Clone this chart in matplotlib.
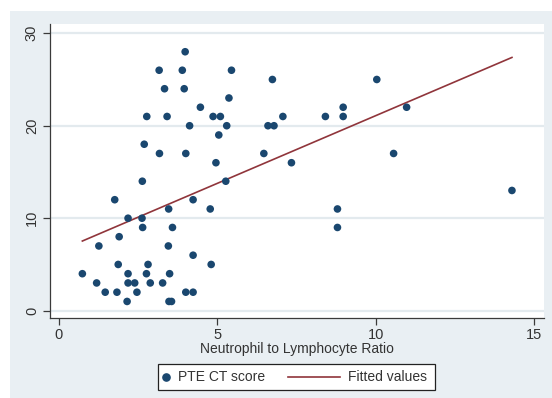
import matplotlib.pyplot as plt
from matplotlib.lines import Line2D
from matplotlib.patches import Rectangle
import numpy as np

plt.rcParams['font.family'] = ['Liberation Sans', 'DejaVu Sans']

# Neutrophil to Lymphocyte Ratio vs PTE CT score
nlr = [0.75, 1.20, 1.27, 1.47, 1.77, 1.84, 1.88, 1.91, 2.16, 2.19,
       2.19, 2.19, 2.40, 2.47, 2.63, 2.64, 2.65, 2.70, 2.77, 2.78,
       2.82, 2.89, 3.17, 3.18, 3.28, 3.34, 3.42, 3.46, 3.47, 3.50,
       3.48, 3.56, 3.59, 3.90, 3.96, 3.99, 4.01, 4.01, 4.13, 4.24,
       4.24, 4.24, 4.47, 4.78, 4.81, 4.87, 4.96, 5.05, 5.10, 5.27,
       5.30, 5.37, 5.45, 6.47, 6.60, 6.74, 6.79, 7.07, 7.34, 8.41,
       8.79, 8.79, 8.97, 8.97, 10.03, 10.56, 10.97, 14.29]
pte = [4, 3, 7, 2, 12, 2, 5, 8, 1, 10,
       4, 3, 3, 2, 10, 14, 9, 18, 4, 21,
       5, 3, 26, 17, 3, 24, 21, 7, 11, 4,
       1, 1, 9, 26, 24, 28, 17, 2, 20, 12,
       6, 2, 22, 11, 5, 21, 16, 19, 21, 14,
       20, 23, 26, 17, 20, 25, 20, 21, 16, 21,
       11, 9, 22, 21, 25, 17, 22, 13]

x_ticks = [0, 5, 10, 15]
y_ticks = [0, 10, 20, 30]
labels = ["PTE CT score", "Fitted values"]

NAVY = "#1A476F"
MAROON = "#90353B"
BG = "#E9EFF3"
GRID = "#E3EAEE"
AXC = "#3A3A3A"
TXT = "#333333"

W, H = 552, 398


def fx(px):
    return px / W


def fy(py):
    return 1 - py / H


x = np.array(nlr)
y = np.array(pte)
slope, icept = np.polyfit(x, y, 1)
xs = np.array([x.min(), x.max()])

fig = plt.figure(figsize=(5.52, 3.98), dpi=100)
fig.patch.set_facecolor("white")
fig.add_artist(Rectangle((fx(10), 0), 1 - fx(10), fy(11),
                         transform=fig.transFigure, facecolor=BG,
                         edgecolor="none", zorder=0))

ax = fig.add_axes([fx(50), fy(318), fx(494), 294 / H])
ax.set_facecolor("white")
ax.set_xlim(-0.27, 15.3)
ax.set_ylim(-0.79, 31.0)

for t in y_ticks:
    ax.axhline(t, color=GRID, linewidth=1.6, zorder=1)

ax.scatter(x, y, s=30, color=NAVY, edgecolors="none", zorder=3)
ax.plot(xs, icept + slope * xs, color=MAROON, linewidth=1.2, zorder=2)

ax.set_xticks(x_ticks)
ax.set_yticks(y_ticks)
ax.set_yticklabels([str(t) for t in y_ticks], rotation=90, va="center")
ax.tick_params(axis="both", direction="out", length=5, width=0.9,
               color=AXC, labelcolor=TXT, labelsize=10.5)
ax.tick_params(axis="x", pad=2)
ax.tick_params(axis="y", pad=3)
for s in ["top", "right"]:
    ax.spines[s].set_visible(False)
for s in ["left", "bottom"]:
    ax.spines[s].set_color(AXC)
    ax.spines[s].set_linewidth(0.9)

ax.set_xlabel("Neutrophil to Lymphocyte Ratio", fontsize=10,
              color=TXT, labelpad=0)

# legend box drawn by hand (Stata style: narrow marker key, long line key)
fig.add_artist(Rectangle((fx(158), fy(390)), fx(277), 26 / H,
                         transform=fig.transFigure, facecolor="white",
                         edgecolor="#222222", linewidth=0.9, zorder=2))
ly = fy(377)
fig.add_artist(Line2D([fx(166)], [ly], marker="o", linestyle="none",
                      color=NAVY, markersize=5.2,
                      transform=fig.transFigure, zorder=3))
fig.text(fx(178), ly, labels[0], fontsize=10, color=TXT,
         ha="left", va="center")
fig.add_artist(Line2D([fx(288), fx(340)], [ly, ly], color=MAROON,
                      linewidth=1.2, transform=fig.transFigure, zorder=3))
fig.text(fx(348), ly, labels[1], fontsize=10, color=TXT,
         ha="left", va="center")

fig.savefig("out.png", dpi=100, facecolor=fig.get_facecolor())
